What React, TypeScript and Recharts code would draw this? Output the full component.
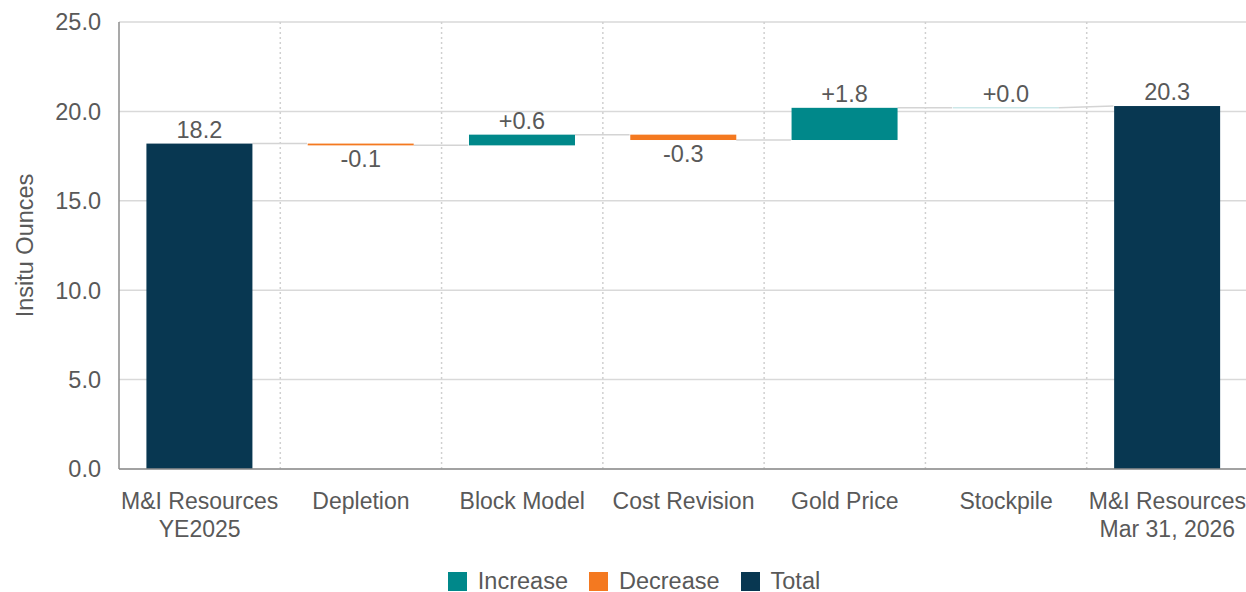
import React from "react";
import {
  Bar,
  BarChart,
  CartesianGrid,
  Legend,
  XAxis,
  YAxis,
} from "recharts";

// waterfall data
const categories = [
  "M&I Resources\nYE2025",
  "Depletion",
  "Block Model",
  "Cost Revision",
  "Gold Price",
  "Stockpile",
  "M&I Resources\nMar 31, 2026",
];
const changes = [18.2, -0.1, 0.6, -0.3, 1.8, 0.0, 20.3];
const isTotal = [true, false, false, false, false, false, true];
const yTicks = [0, 5, 10, 15, 20, 25];
const legendNames = ["Increase", "Decrease", "Total"];

const COLORS = { Increase: "#00888A", Decrease: "#F47920", Total: "#083751" } as Record<string, string>;
const TEXT = "#595959";
const FONT = "'Liberation Sans', Arial, sans-serif";
const Y_MAX = 25;
const CAT_GAP = 0.17;

// build rows: start, end and the level where the next bar begins
const rows = (() => {
  let running = 0;
  const out = categories.map((name, i) => {
    const start = isTotal[i] ? 0 : running;
    const end = isTotal[i] ? changes[i] : running + changes[i];
    running = end;
    const kind = isTotal[i] ? "Total" : changes[i] < 0 ? "Decrease" : "Increase";
    const label = isTotal[i]
      ? changes[i].toFixed(1)
      : (changes[i] < 0 ? "" : "+") + changes[i].toFixed(1);
    return {
      name,
      range: [Math.min(start, end), Math.max(start, end)],
      start,
      end,
      kind,
      label,
      nextStart: undefined as number | undefined,
    };
  });
  out.forEach((r, i) => {
    const n = out[i + 1];
    if (n) r.nextStart = isTotal[i + 1] ? n.end : n.start;
  });
  return out;
})();

const WaterfallBar = (props: any) => {
  const { x, y, width, height, payload, background } = props;
  const top = background?.y ?? 22;
  const h = background?.height ?? 447;
  const toPx = (v: number) => top + h * (1 - v / Y_MAX);
  const band = width / (1 - 2 * CAT_GAP);
  const gap = band - width;
  const color = COLORS[payload.kind];
  const above = payload.kind !== "Decrease";
  const cx = x + width / 2;
  const endPx = toPx(payload.end);

  return (
    <g>
      {payload.nextStart !== undefined && (
        <line
          x1={x + width}
          y1={endPx}
          x2={x + width + gap}
          y2={toPx(payload.nextStart)}
          stroke="#d4d4d4"
          strokeWidth={1.5}
        />
      )}
      {height > 0.5 ? (
        <rect x={x} y={y} width={width} height={height} fill={color} />
      ) : (
        <line x1={x} x2={x + width} y1={y} y2={y} stroke={color} strokeOpacity={0.2} strokeWidth={1.5} />
      )}
      <text
        x={cx}
        y={above ? y - 6 : y + height + 22}
        textAnchor="middle"
        fill={TEXT}
        fontSize={23.5}
        fontFamily={FONT}
      >
        {payload.label}
      </text>
    </g>
  );
};

const CategoryTick = (props: any) => {
  const { x, y, payload } = props;
  const lines = String(payload.value).split("\n");
  return (
    <g>
      {lines.map((ln, i) => (
        <text
          key={i}
          x={x}
          y={y + 38 + i * 28}
          textAnchor="middle"
          fill={TEXT}
          fontSize={23}
          fontFamily={FONT}
        >
          {ln}
        </text>
      ))}
    </g>
  );
};

const LegendContent = () => (
  <div
    style={{
      display: "flex",
      justifyContent: "center",
      alignItems: "center",
      height: 26,
      paddingLeft: 20,
      fontFamily: FONT,
      fontSize: 23.5,
      color: TEXT,
      gap: 21,
    }}
  >
    {legendNames.map((n) => (
      <div key={n} style={{ display: "flex", alignItems: "center" }}>
        <span style={{ width: 19, height: 19, background: COLORS[n], marginRight: 11, display: "inline-block" }} />
        <span>{n}</span>
      </div>
    ))}
  </div>
);

export default function App() {
  return (
    <div style={{ width: 1246, height: 592, overflow: "hidden", position: "relative" }}>
      <style>{`body{margin:0}`}</style>
      <BarChart
        width={1248}
        height={594}
        data={rows}
        margin={{ top: 22, right: 0, left: 0, bottom: 0 }}
        barCategoryGap={`${CAT_GAP * 100}%`}
      >
        <CartesianGrid vertical={false} stroke="#d9d9d9" strokeWidth={1.5} />
        <CartesianGrid
          horizontal={false}
          stroke="#d0d0d0"
          strokeWidth={1.5}
          strokeDasharray="2 3"
          verticalCoordinatesGenerator={({ offset }: any) =>
            categories.slice(1).map((_, i) => offset.left + ((i + 1) * offset.width) / categories.length)
          }
        />
        <XAxis
          dataKey="name"
          interval={0}
          tickLine={false}
          tickSize={0}
          height={99}
          axisLine={{ stroke: "#8c8c8c", strokeWidth: 1.5 }}
          tick={<CategoryTick />}
        />
        <YAxis
          domain={[0, Y_MAX]}
          ticks={yTicks}
          interval={0}
          width={119}
          tickLine={false}
          tickSize={0}
          tickMargin={18}
          tickFormatter={(v: number) => v.toFixed(1)}
          axisLine={{ stroke: "#8c8c8c", strokeWidth: 1.5 }}
          tick={{ fill: TEXT, fontSize: 23.5, fontFamily: FONT }}
          label={{
            content: ({ viewBox }: any) => (
              <text
                x={viewBox.x + 33}
                y={viewBox.y + viewBox.height / 2}
                transform={`rotate(-90, ${viewBox.x + 33}, ${viewBox.y + viewBox.height / 2})`}
                textAnchor="middle"
                fill={TEXT}
                fontSize={23.5}
                fontFamily={FONT}
              >
                Insitu Ounces
              </text>
            ),
          }}
        />
        <Legend verticalAlign="bottom" content={<LegendContent />} />
        <Bar dataKey="range" shape={<WaterfallBar />} isAnimationActive={false} />
      </BarChart>
    </div>
  );
}
